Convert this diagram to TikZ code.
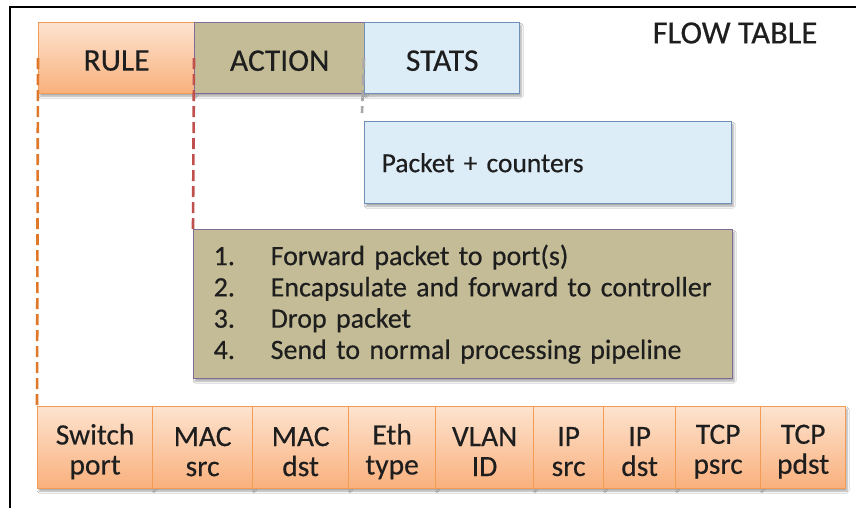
\documentclass[tikz,border=0pt]{standalone}
\usepackage{fontspec}
\setmainfont{Carlito}[FakeBold=0.4]
\usetikzlibrary{shadows.blur}

\definecolor{peachtop}{HTML}{FDE3CF}
\definecolor{peachbot}{HTML}{F9B07C}
\definecolor{orangeline}{HTML}{F39A55}
\definecolor{tanfill}{HTML}{C4BC96}
\definecolor{purpleline}{HTML}{7F6A98}
\definecolor{bluefill}{HTML}{DCEDF8}
\definecolor{blueline}{HTML}{6E8FB8}
\definecolor{dashorange}{HTML}{E0782A}
\definecolor{dashred}{HTML}{C0504D}
\definecolor{dashgray}{HTML}{A8A8A8}
\definecolor{textcol}{HTML}{1E1E1E}

% lower a label inside its box without changing the box size
\newcommand{\dropby}[2]{\raisebox{-#1}[\height][\depth]{#2}}

\tikzset{
  softshadow/.style={blur shadow={shadow xshift=1.5pt, shadow yshift=-2.5pt,
      shadow blur steps=6, shadow opacity=35}},
  orangebox/.style={draw=orangeline, line width=1.2pt, top color=peachtop,
      bottom color=peachbot, softshadow, text=textcol, inner sep=0pt},
  tanbox/.style={draw=purpleline, line width=1.4pt, fill=tanfill, softshadow,
      text=textcol, inner sep=0pt},
  bluebox/.style={draw=blueline, line width=1.4pt, fill=bluefill, softshadow,
      text=textcol, inner sep=0pt},
  headfont/.style={font=\fontsize{31.5}{36}\selectfont},
  fieldbox/.style={orangebox, align=center,
      font=\fontsize{29.5}{30}\selectfont},
  link/.style={line width=2.6pt, dash pattern=on 11pt off 5pt},
}

\begin{document}
\begin{tikzpicture}[x=1pt, y=-1pt]
  \useasboundingbox[fill=white] (0,0) rectangle (856,508);

  % outer frame, open on the right and below
  \draw[line width=2.2pt, black] (10,508) -- (10,7) -- (856,7);

  % header of the flow table entry
  \node[orangebox, headfont, minimum width=156pt, minimum height=71pt,
        anchor=north west] (rule) at (38,22) {\dropby{2.5pt}{RULE}};
  \node[tanbox, headfont, minimum width=170pt, minimum height=71pt,
        anchor=north west] (action) at (194,22) {\dropby{2.5pt}{ACTION}};
  \node[bluebox, headfont, minimum width=155pt, minimum height=71pt,
        anchor=north west] (stats) at (364,22) {\dropby{2.5pt}{STATS}};

  \node[text=textcol, font=\fontsize{32.5}{36}\selectfont, anchor=center]
        (title) at (735,33) {FLOW TABLE};

  % statistics detail
  \node[bluebox, minimum width=367pt, minimum height=82pt, text width=333pt,
        inner xsep=17pt, align=left, font=\fontsize{27.5}{32}\selectfont,
        anchor=north west] (counters) at (364,121) {Packet + counters};

  % action detail
  \node[tanbox, minimum width=539pt, minimum height=149pt, text width=499pt,
        inner xsep=20pt, align=left, font=\fontsize{28}{31.3}\selectfont,
        anchor=north west] (actions) at (193,229)
    {\makebox[57pt][l]{1.}Forward packet to port(s)\\
     \makebox[57pt][l]{2.}Encapsulate and forward to controller\\
     \makebox[57pt][l]{3.}Drop packet\\
     \makebox[57pt][l]{4.}Send to normal processing pipeline};

  % header fields matched by the rule
  \foreach \n/\l/\r/\txt in {
      f1/37/152/{Switch\\port}, f2/152/252/{MAC\\src}, f3/252/348/{MAC\\dst},
      f4/348/435/{Eth\\type},   f5/435/533/{VLAN\\ID}, f6/533/603/{IP\\src},
      f7/603/675/{IP\\dst},     f8/675/760/{TCP\\psrc}, f9/760/845/{TCP\\pdst}} {
    \pgfmathsetmacro{\w}{\r-\l}
    \node[fieldbox, minimum width=\w pt, minimum height=82pt,
          anchor=north west] (\n) at (\l,406)
          {\dropby{4pt}{\parbox{\w pt}{\centering\txt}}};
  }

  % dashed links from the header to their details
  \coordinate (statsend) at (362,113);
  \draw[link, dashorange] (rule.west) -- (f1.north west);
  \draw[link, dashred] (action.west) -- (actions.north west);
  \draw[link, dashgray] (stats.west) -- (statsend);
\end{tikzpicture}
\end{document}
